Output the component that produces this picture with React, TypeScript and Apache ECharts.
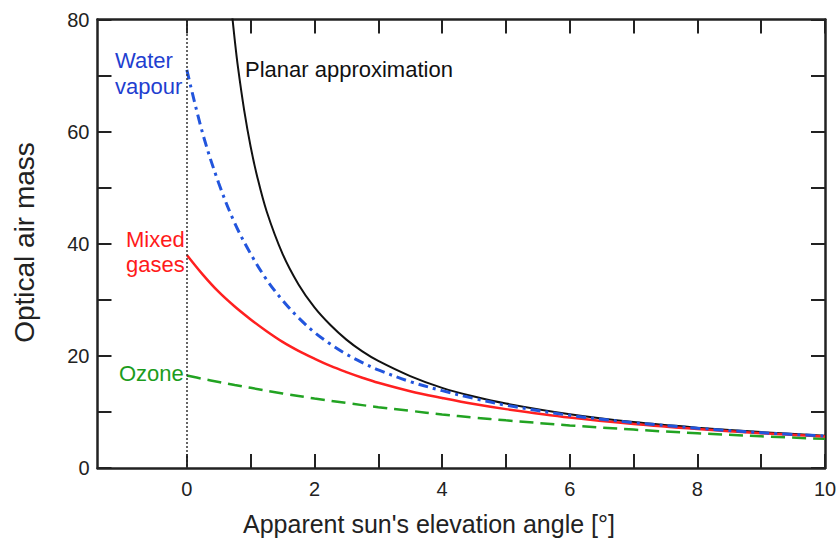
import React, { useEffect, useRef } from "react";
import * as echarts from "echarts";

// Apparent sun elevation angle (degrees) sample points
const angles = [0, 0.25, 0.5, 0.75, 1, 1.25, 1.5, 1.75, 2, 2.25, 2.5, 2.75, 3, 3.5, 4, 4.5, 5, 6, 7, 8, 9, 10];
const waterVapour = [71.0, 59.6, 50.8, 43.7, 38.2, 33.6, 29.9, 26.8, 24.2, 22.1, 20.3, 18.8, 17.5, 15.4, 13.8, 12.4, 11.2, 9.4, 8.1, 7.1, 6.3, 5.7];
const mixedGases = [38.0, 34.5, 31.4, 28.8, 26.5, 24.4, 22.5, 20.9, 19.5, 18.2, 17.1, 16.1, 15.2, 13.7, 12.5, 11.4, 10.5, 9.0, 7.85, 6.95, 6.2, 5.6];

const ozoneAngles = [0, 0.25, 0.5, 0.75, 1, 1.5, 2, 2.5, 3, 3.5, 4, 4.5, 5, 6, 7, 8, 9, 10];
const ozone = [16.5, 15.9, 15.35, 14.8, 14.3, 13.3, 12.4, 11.6, 10.85, 10.2, 9.55, 9.0, 8.5, 7.6, 6.85, 6.2, 5.65, 5.2];

const planarAngles = [0.7, 0.75, 0.8, 0.9, 1, 1.1, 1.25, 1.5, 1.75, 2, 2.25, 2.5, 2.75, 3, 3.5, 4, 4.5, 5, 6, 7, 8, 9, 10];
const planar = [81.85, 76.4, 71.6, 63.7, 57.3, 52.1, 45.8, 38.2, 32.75, 28.65, 25.5, 22.9, 20.8, 19.1, 16.4, 14.3, 12.75, 11.5, 9.6, 8.2, 7.2, 6.4, 5.76];

const xTicks = [0, 1, 2, 3, 4, 5, 6, 7, 8, 9, 10];
const xLabels = [0, 2, 4, 6, 8, 10];
const yLabels = [0, 20, 40, 60, 80];

const FONT = "'Liberation Sans', Arial, sans-serif";
const AXIS_COLOR = "#222";

const pairs = (xs: number[], ys: number[]) => xs.map((x, i) => [x, ys[i]]);

export default function App() {
  const ref = useRef<HTMLDivElement>(null);

  useEffect(() => {
    if (!ref.current) return;
    const chart = echarts.init(ref.current, undefined, { renderer: "svg" });

    const tickStyle = { color: AXIS_COLOR, width: 2 };
    const lineStyle = { color: AXIS_COLOR, width: 2.5 };
    const xAxisBase = (pos: "bottom" | "top", showLabels: boolean) => ({
      type: "value",
      min: -1.4,
      max: 10,
      position: pos,
      axisLine: { show: true, onZero: false, lineStyle },
      axisTick: { show: true, inside: true, length: 14, customValues: xTicks, lineStyle: tickStyle },
      axisLabel: {
        show: showLabels,
        customValues: xLabels,
        fontSize: 20,
        fontFamily: FONT,
        color: AXIS_COLOR,
        margin: 11,
      },
      splitLine: { show: false },
    });
    const yAxisBase = (pos: "left" | "right", showLabels: boolean) => ({
      type: "value",
      min: 0,
      max: 80,
      interval: 10,
      position: pos,
      axisLine: { show: true, onZero: false, lineStyle },
      axisTick: { show: true, inside: true, length: 14, lineStyle: tickStyle },
      axisLabel: {
        show: showLabels,
        formatter: (v: number) => (yLabels.indexOf(v) >= 0 ? String(v) : ""),
        fontSize: 20,
        fontFamily: FONT,
        color: AXIS_COLOR,
        margin: 8,
      },
      splitLine: { show: false },
    });

    const annot = (text: string, x: number, y: number, color: string, size = 22, align = "left") => ({
      type: "text",
      x,
      y,
      silent: true,
      style: {
        text,
        fill: color,
        fontSize: size,
        fontFamily: FONT,
        textAlign: align,
        textVerticalAlign: "middle",
      },
    });

    chart.setOption({
      animation: false,
      backgroundColor: "#ffffff",
      grid: {
        left: 97.5,
        right: 15,
        top: 19.5,
        bottom: 74,
        show: false,
        containLabel: false,
        outerBoundsMode: "none",
      },
      xAxis: [xAxisBase("bottom", true), xAxisBase("top", false)],
      yAxis: [yAxisBase("left", true), yAxisBase("right", false)],
      series: [
        {
          name: "Planar approximation",
          type: "line",
          data: pairs(planarAngles, planar),
          showSymbol: false,
          smooth: 0.35,
          clip: true,
          lineStyle: { color: "#111111", width: 2 },
          markLine: {
            silent: true,
            symbol: ["none", "none"],
            label: { show: false },
            lineStyle: { type: [2, 2], color: "#333333", width: 1.5 },
            data: [{ xAxis: 0 }],
          },
        },
        {
          name: "Ozone",
          type: "line",
          data: pairs(ozoneAngles, ozone),
          showSymbol: false,
          smooth: 0.35,
          lineStyle: { color: "#22a322", width: 2.5, type: [14, 7] },
        },
        {
          name: "Mixed gases",
          type: "line",
          data: pairs(angles, mixedGases),
          showSymbol: false,
          smooth: 0.35,
          lineStyle: { color: "#ff2020", width: 2.5 },
        },
        {
          name: "Water vapour",
          type: "line",
          data: pairs(angles, waterVapour),
          showSymbol: false,
          smooth: 0.35,
          lineStyle: { color: "#2255dd", width: 3, type: [10, 5, 3, 5] },
        },
      ],
      graphic: [
        annot("Water", 115, 60, "#1f3fd0"),
        annot("vapour", 115, 86, "#1f3fd0"),
        annot("Planar approximation", 245, 69, "#111111"),
        annot("Mixed", 126, 239, "#ff1a1a"),
        annot("gases", 126, 264, "#ff1a1a"),
        annot("Ozone", 119, 373, "#1c9c1c"),
        annot("Apparent sun's elevation angle [°]", 243, 524, AXIS_COLOR, 25),
        {
          type: "text",
          x: 24,
          y: 242.5,
          rotation: Math.PI / 2,
          silent: true,
          style: {
            text: "Optical air mass",
            fill: AXIS_COLOR,
            fontSize: 28,
            fontFamily: FONT,
            textAlign: "center",
            textVerticalAlign: "middle",
          },
        },
      ],
    });

    return () => chart.dispose();
  }, []);

  return (
    <div
      ref={ref}
      style={{ position: "fixed", left: 0, top: 0, width: 840, height: 542 }}
    />
  );
}
